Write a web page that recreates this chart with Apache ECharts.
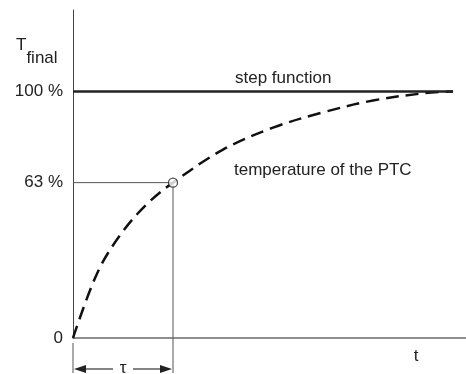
<!DOCTYPE html>
<html>
<head>
<meta charset="utf-8">
<script src="https://cdn.jsdelivr.net/npm/echarts@6/dist/echarts.min.js"></script>
<style>
  html, body { margin: 0; padding: 0; background: #fff; }
  #main { width: 466px; height: 374px; }
</style>
</head>
<body>
<div id="main"></div>
<script>
// time in units of tau, temperature in % of T_final
var curveT = [0, 0.25, 0.5, 0.75, 1.0, 1.5, 2.0, 2.5, 3.0, 3.5, 3.8];
var curveV = [0, 27, 43.3, 54.7, 63, 76.4, 85.3, 91.5, 96.3, 99.2, 100];
var stepT = [0, 3.80];
var stepV = [100, 100];
var tau = 1;
var tauLevel = 63;
var yTicks = [0, 63, 100];

var chartDom = document.getElementById('main');
var myChart = echarts.init(chartDom);
var font = 'Liberation Sans, Arial, sans-serif';

var curveData = curveT.map(function (t, i) { return [t, curveV[i]]; });
var stepData = stepT.map(function (t, i) { return [t, stepV[i]]; });

var option = {
    animation: false,
    grid: { left: 73, right: 0, top: 10, bottom: 36 },
    xAxis: {
        type: 'value',
        min: 0,
        max: 3.93,
        axisLine: { show: true, lineStyle: { color: '#6a6a6a', width: 1.5 } },
        axisTick: { show: false },
        axisLabel: { show: false },
        splitLine: { show: false }
    },
    yAxis: {
        type: 'value',
        min: 0,
        max: 133,
        axisLine: { show: true, lineStyle: { color: '#444', width: 1 } },
        axisTick: { show: false },
        splitLine: { show: false },
        axisLabel: {
            customValues: yTicks,
            margin: 10,
            color: '#222',
            fontFamily: font,
            fontSize: 17,
            formatter: function (v) { return v === 0 ? '0' : v + ' %'; }
        }
    },
    series: [
        {
            // guide lines to the 63 % point
            type: 'line',
            data: [[0, tauLevel], [tau, tauLevel], [tau, 0]],
            symbol: 'none',
            lineStyle: { color: '#555', width: 1 },
            z: 1
        },
        {
            name: 'step function',
            type: 'line',
            data: stepData,
            symbol: 'none',
            lineStyle: { color: '#222', width: 2.5 },
            z: 3
        },
        {
            name: 'temperature of the PTC',
            type: 'line',
            data: curveData,
            smooth: 0.35,
            symbol: 'none',
            lineStyle: { color: '#111', width: 2.5, type: [13, 7] },
            z: 2
        },
        {
            type: 'scatter',
            data: [[tau, tauLevel]],
            symbol: 'circle',
            symbolSize: 9,
            itemStyle: { color: '#fff', borderColor: '#222', borderWidth: 1.3 },
            z: 5
        }
    ]
};

option && myChart.setOption(option);

// annotations placed from the axes
var p0 = myChart.convertToPixel({ gridIndex: 0 }, [0, 0]);
var pTau = myChart.convertToPixel({ gridIndex: 0 }, [tau, 0]);
var pTop = myChart.convertToPixel({ gridIndex: 0 }, [0, 100]);
var pStep = myChart.convertToPixel({ gridIndex: 0 }, [1.62, 100]);
var pCurve = myChart.convertToPixel({ gridIndex: 0 }, [1.61, 68]);
var pT = myChart.convertToPixel({ gridIndex: 0 }, [3.43, 0]);
var dimY = p0[1] + 31;
var midX = (p0[0] + pTau[0]) / 2;

var textStyle = { fill: '#222', fontFamily: font, fontSize: 17 };
function txt(x, y, s, align) {
    return {
        type: 'text', x: x, y: y,
        style: Object.assign({ text: s, align: align || 'left', verticalAlign: 'middle' }, textStyle)
    };
}

myChart.setOption({
    graphic: [
        txt(pStep[0], pStep[1] - 13, 'step function'),
        txt(pCurve[0], pCurve[1], 'temperature of the PTC'),
        txt(pT[0], pT[1] + 18, 't', 'center'),
        {
            type: 'text', x: 16, y: pTop[1] - 55,
            style: {
                text: '{a|T}{b|final}',
                fontFamily: font,
                rich: {
                    a: { fontSize: 17, fill: '#222', fontFamily: font, verticalAlign: 'top', lineHeight: 18 },
                    b: { fontSize: 17, fill: '#222', fontFamily: font, verticalAlign: 'bottom', lineHeight: 30 }
                }
            }
        },
        // extension lines for the tau dimension
        { type: 'line', shape: { x1: p0[0], y1: p0[1] + 5, x2: p0[0], y2: dimY + 4 }, style: { stroke: '#555', lineWidth: 1 } },
        { type: 'line', shape: { x1: pTau[0], y1: pTau[1], x2: pTau[0], y2: dimY + 4 }, style: { stroke: '#555', lineWidth: 1 } },
        { type: 'line', shape: { x1: p0[0] + 10, y1: dimY, x2: midX - 10, y2: dimY }, style: { stroke: '#333', lineWidth: 1.2 } },
        { type: 'line', shape: { x1: midX + 10, y1: dimY, x2: pTau[0] - 10, y2: dimY }, style: { stroke: '#333', lineWidth: 1.2 } },
        { type: 'polygon', shape: { points: [[p0[0] + 1, dimY], [p0[0] + 13, dimY - 4], [p0[0] + 13, dimY + 4]] }, style: { fill: '#222' } },
        { type: 'polygon', shape: { points: [[pTau[0] - 1, dimY], [pTau[0] - 13, dimY - 4], [pTau[0] - 13, dimY + 4]] }, style: { fill: '#222' } },
        txt(midX, dimY - 1, 'τ', 'center')
    ]
});

new ResizeObserver(() => myChart.resize()).observe(chartDom);
</script>
</body>
</html>
